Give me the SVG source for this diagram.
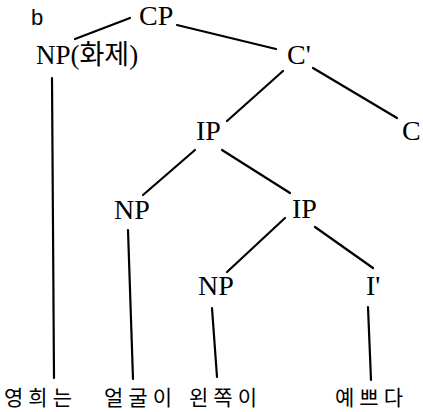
<svg xmlns="http://www.w3.org/2000/svg" width="423" height="412" viewBox="0 0 423 412">
<style>
.lat{font-family:"Liberation Serif","Times New Roman",serif;font-size:28px;fill:#000}
.ko{font-family:"Liberation Serif","Noto Sans CJK KR",serif;font-size:27px;fill:#000}
.word{font-family:"Noto Sans CJK KR",sans-serif;font-size:21px;letter-spacing:5px;fill:#000}
.lbl{font-family:"Liberation Sans",Arial,sans-serif;font-size:22px;fill:#000}
#edges line{stroke:#000;stroke-width:2.2;stroke-linecap:round}
</style>
<rect width="423" height="412" fill="#fff"/>
<g id="edges">
<line x1="130" y1="18" x2="75" y2="39"/>
<line x1="177" y1="25" x2="276" y2="49"/>
<line x1="283" y1="71" x2="227" y2="121"/>
<line x1="313" y1="68" x2="397" y2="118"/>
<line x1="195" y1="150" x2="143" y2="195"/>
<line x1="222" y1="150" x2="290" y2="193"/>
<line x1="285" y1="218" x2="227" y2="272"/>
<line x1="315" y1="227" x2="373" y2="268"/>
<line x1="52" y1="78" x2="54" y2="378"/>
<line x1="128" y1="230" x2="133" y2="379"/>
<line x1="212" y1="308" x2="217" y2="377"/>
<line x1="368" y1="307" x2="371" y2="380"/>
</g>
<g id="label-b"><text class="lbl" x="31" y="25">b</text></g>
<g id="CP"><text class="lat" x="139" y="25">CP</text></g>
<g id="NP-topic"><text class="ko" x="36" y="64">NP(화제)</text></g>
<g id="Cbar"><text class="lat" x="287" y="64">C'</text></g>
<g id="IP1"><text class="lat" x="196" y="140">IP</text></g>
<g id="C"><text class="lat" x="402" y="140">C</text></g>
<g id="NP2"><text class="lat" x="114" y="219">NP</text></g>
<g id="IP2"><text class="lat" x="292" y="218">IP</text></g>
<g id="NP3"><text class="lat" x="198" y="295">NP</text></g>
<g id="Ibar"><text class="lat" x="366" y="295">I'</text></g>
<g id="w1"><text class="word" x="4" y="405">영희는</text></g>
<g id="w2"><text class="word" x="104" y="405">얼굴이</text></g>
<g id="w3"><text class="word" x="189" y="405">왼쪽이</text></g>
<g id="w4"><text class="word" x="335" y="405">예쁘다</text></g>
</svg>
